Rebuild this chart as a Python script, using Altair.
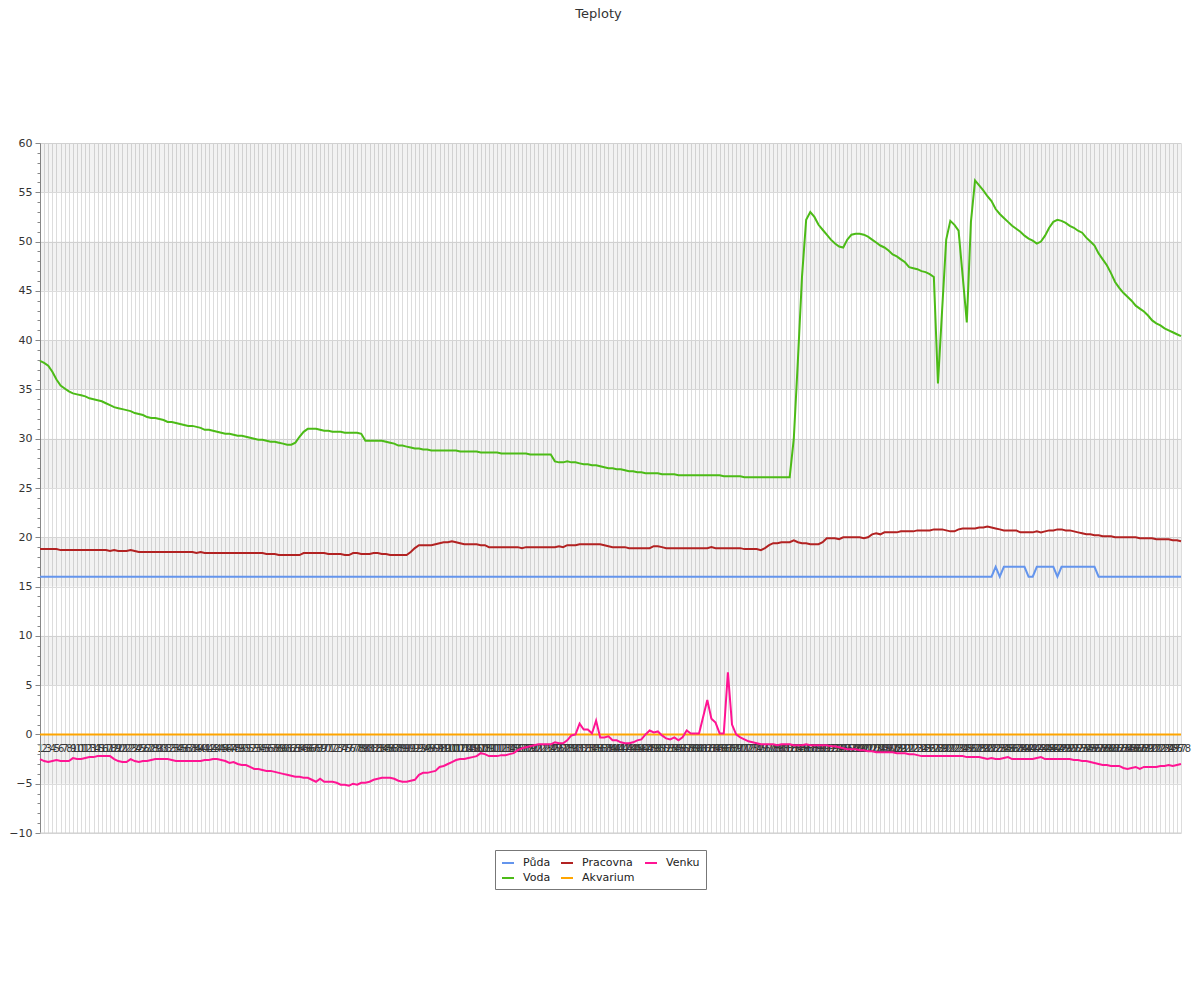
import altair as alt
import pandas as pd

labels = [str(i) for i in range(1, 279)]

voda = [
    37.9, 37.7, 37.4, 36.8, 36.0, 35.4, 35.1, 34.8, 34.6, 34.5,
    34.4, 34.3, 34.1, 34.0, 33.9, 33.8, 33.6, 33.4, 33.2, 33.1,
    33.0, 32.9, 32.8, 32.6, 32.5, 32.4, 32.2, 32.1, 32.1, 32.0,
    31.9, 31.7, 31.7, 31.6, 31.5, 31.4, 31.3, 31.3, 31.2, 31.1,
    30.9, 30.9, 30.8, 30.7, 30.6, 30.5, 30.5, 30.4, 30.3, 30.3,
    30.2, 30.1, 30.0, 29.9, 29.9, 29.8, 29.7, 29.7, 29.6, 29.5,
    29.4, 29.4, 29.6, 30.2, 30.7, 31.0, 31.0, 31.0, 30.9, 30.8,
    30.8, 30.7, 30.7, 30.7, 30.6, 30.6, 30.6, 30.6, 30.5, 29.8,
    29.8, 29.8, 29.8, 29.8, 29.7, 29.6, 29.5, 29.3, 29.3, 29.2,
    29.1, 29.0, 29.0, 28.9, 28.9, 28.8, 28.8, 28.8, 28.8, 28.8,
    28.8, 28.8, 28.7, 28.7, 28.7, 28.7, 28.7, 28.6, 28.6, 28.6,
    28.6, 28.6, 28.5, 28.5, 28.5, 28.5, 28.5, 28.5, 28.5, 28.4,
    28.4, 28.4, 28.4, 28.4, 28.4, 27.7, 27.6, 27.6, 27.7, 27.6,
    27.6, 27.5, 27.4, 27.4, 27.3, 27.3, 27.2, 27.1, 27.0, 27.0,
    26.9, 26.9, 26.8, 26.7, 26.7, 26.6, 26.6, 26.5, 26.5, 26.5,
    26.5, 26.4, 26.4, 26.4, 26.4, 26.3, 26.3, 26.3, 26.3, 26.3,
    26.3, 26.3, 26.3, 26.3, 26.3, 26.3, 26.2, 26.2, 26.2, 26.2,
    26.2, 26.1, 26.1, 26.1, 26.1, 26.1, 26.1, 26.1, 26.1, 26.1,
    26.1, 26.1, 26.1, 30.0, 38.0, 46.5, 52.2, 53.0, 52.5, 51.7,
    51.2, 50.7, 50.2, 49.8, 49.5, 49.4, 50.2, 50.7, 50.8, 50.8,
    50.7, 50.5, 50.2, 49.9, 49.6, 49.4, 49.1, 48.7, 48.5, 48.2,
    47.9, 47.4, 47.3, 47.2, 47.0, 46.9, 46.7, 46.4, 35.6, 43.0,
    50.2, 52.1, 51.7, 51.1, 46.5, 41.8, 52.0, 56.2, 55.7, 55.2,
    54.6, 54.1, 53.3, 52.8, 52.4, 52.0, 51.6, 51.3, 51.0, 50.6,
    50.3, 50.1, 49.8, 50.0, 50.6, 51.4, 52.0, 52.2, 52.1, 51.9,
    51.6, 51.4, 51.1, 50.9, 50.4, 50.0, 49.6, 48.8, 48.2, 47.6,
    46.8, 45.9, 45.3, 44.8, 44.4, 44.0, 43.5, 43.2, 42.9, 42.5,
    42.0, 41.7, 41.5, 41.2, 41.0, 40.8, 40.6, 40.4,
]

pracovna = [
    18.8, 18.8, 18.8, 18.8, 18.8, 18.7, 18.7, 18.7, 18.7, 18.7,
    18.7, 18.7, 18.7, 18.7, 18.7, 18.7, 18.7, 18.6, 18.7, 18.6,
    18.6, 18.6, 18.7, 18.6, 18.5, 18.5, 18.5, 18.5, 18.5, 18.5,
    18.5, 18.5, 18.5, 18.5, 18.5, 18.5, 18.5, 18.5, 18.4, 18.5,
    18.4, 18.4, 18.4, 18.4, 18.4, 18.4, 18.4, 18.4, 18.4, 18.4,
    18.4, 18.4, 18.4, 18.4, 18.4, 18.3, 18.3, 18.3, 18.2, 18.2,
    18.2, 18.2, 18.2, 18.2, 18.4, 18.4, 18.4, 18.4, 18.4, 18.4,
    18.3, 18.3, 18.3, 18.3, 18.2, 18.2, 18.4, 18.4, 18.3, 18.3,
    18.3, 18.4, 18.4, 18.3, 18.3, 18.2, 18.2, 18.2, 18.2, 18.2,
    18.5, 18.9, 19.2, 19.2, 19.2, 19.2, 19.3, 19.4, 19.5, 19.5,
    19.6, 19.5, 19.4, 19.3, 19.3, 19.3, 19.3, 19.2, 19.2, 19.0,
    19.0, 19.0, 19.0, 19.0, 19.0, 19.0, 19.0, 18.9, 19.0, 19.0,
    19.0, 19.0, 19.0, 19.0, 19.0, 19.0, 19.1, 19.0, 19.2, 19.2,
    19.2, 19.3, 19.3, 19.3, 19.3, 19.3, 19.3, 19.2, 19.1, 19.0,
    19.0, 19.0, 19.0, 18.9, 18.9, 18.9, 18.9, 18.9, 18.9, 19.1,
    19.1, 19.0, 18.9, 18.9, 18.9, 18.9, 18.9, 18.9, 18.9, 18.9,
    18.9, 18.9, 18.9, 19.0, 18.9, 18.9, 18.9, 18.9, 18.9, 18.9,
    18.9, 18.8, 18.8, 18.8, 18.8, 18.7, 18.9, 19.2, 19.4, 19.4,
    19.5, 19.5, 19.5, 19.7, 19.5, 19.4, 19.4, 19.3, 19.3, 19.3,
    19.5, 19.9, 19.9, 19.9, 19.8, 20.0, 20.0, 20.0, 20.0, 20.0,
    19.9, 20.0, 20.3, 20.4, 20.3, 20.5, 20.5, 20.5, 20.5, 20.6,
    20.6, 20.6, 20.6, 20.7, 20.7, 20.7, 20.7, 20.8, 20.8, 20.8,
    20.7, 20.6, 20.6, 20.8, 20.9, 20.9, 20.9, 20.9, 21.0, 21.0,
    21.1, 21.0, 20.9, 20.8, 20.7, 20.7, 20.7, 20.7, 20.5, 20.5,
    20.5, 20.5, 20.6, 20.5, 20.6, 20.7, 20.7, 20.8, 20.8, 20.7,
    20.7, 20.6, 20.5, 20.4, 20.3, 20.3, 20.2, 20.2, 20.1, 20.1,
    20.1, 20.0, 20.0, 20.0, 20.0, 20.0, 20.0, 19.9, 19.9, 19.9,
    19.9, 19.8, 19.8, 19.8, 19.8, 19.7, 19.7, 19.6,
]

venku = [
    -2.5, -2.7, -2.8, -2.7, -2.6, -2.7, -2.7, -2.7, -2.4, -2.5,
    -2.5, -2.4, -2.3, -2.3, -2.2, -2.2, -2.2, -2.2, -2.5, -2.7,
    -2.8, -2.8, -2.5, -2.7, -2.8, -2.7, -2.7, -2.6, -2.5, -2.5,
    -2.5, -2.5, -2.6, -2.7, -2.7, -2.7, -2.7, -2.7, -2.7, -2.7,
    -2.6, -2.6, -2.5, -2.5, -2.6, -2.7, -2.9, -2.8, -3.0, -3.1,
    -3.1, -3.3, -3.5, -3.5, -3.6, -3.7, -3.7, -3.8, -3.9, -4.0,
    -4.1, -4.2, -4.3, -4.3, -4.4, -4.4, -4.6, -4.8, -4.5, -4.8,
    -4.8, -4.8, -4.9, -5.1, -5.1, -5.2, -5.0, -5.1, -4.9, -4.9,
    -4.8, -4.6, -4.5, -4.4, -4.4, -4.4, -4.5, -4.7, -4.8, -4.8,
    -4.7, -4.6, -4.1, -3.9, -3.9, -3.8, -3.7, -3.3, -3.2, -3.0,
    -2.8, -2.6, -2.5, -2.5, -2.4, -2.3, -2.2, -1.9, -2.0, -2.2,
    -2.2, -2.2, -2.1, -2.1, -2.0, -1.9, -1.6, -1.4, -1.3, -1.2,
    -1.1, -1.0, -1.0, -1.0, -1.0, -0.8, -0.9, -0.9, -0.6, -0.1,
    0.0, 1.1, 0.5, 0.5, 0.1, 1.4, -0.3, -0.3, -0.2, -0.6,
    -0.6, -0.8, -0.9, -0.9, -0.8, -0.6, -0.5, 0.0, 0.4, 0.2,
    0.3, -0.1, -0.4, -0.5, -0.3, -0.6, -0.3, 0.4, 0.1, 0.1,
    0.1, 1.8, 3.5, 1.6, 1.2, 0.1, 0.1, 6.3, 1.0, 0.0,
    -0.3, -0.5, -0.7, -0.8, -0.9, -1.0, -1.0, -1.0, -1.0, -1.1,
    -1.0, -1.0, -1.0, -1.1, -1.1, -1.1, -1.0, -1.1, -1.1, -1.1,
    -1.1, -1.1, -1.2, -1.2, -1.3, -1.4, -1.5, -1.5, -1.5, -1.6,
    -1.6, -1.7, -1.7, -1.8, -1.8, -1.8, -1.8, -1.8, -1.9, -1.9,
    -1.9, -2.0, -2.0, -2.1, -2.2, -2.2, -2.2, -2.2, -2.2, -2.2,
    -2.2, -2.2, -2.2, -2.2, -2.2, -2.3, -2.3, -2.3, -2.3, -2.4,
    -2.5, -2.4, -2.5, -2.5, -2.4, -2.3, -2.5, -2.5, -2.5, -2.5,
    -2.5, -2.5, -2.4, -2.3, -2.5, -2.5, -2.5, -2.5, -2.5, -2.5,
    -2.5, -2.6, -2.6, -2.7, -2.7, -2.8, -2.9, -3.0, -3.1, -3.1,
    -3.2, -3.2, -3.2, -3.4, -3.5, -3.4, -3.3, -3.5, -3.3, -3.3,
    -3.3, -3.3, -3.2, -3.2, -3.1, -3.2, -3.1, -3.0,
]

puda = ([16.0] * 232 + [17.0, 16.0] + [17.0] * 6 + [16.0] * 2 + [17.0] * 5
        + [16.0] + [17.0] * 9 + [16.0] * 21)

akvarium = [0.0] * 278

series = [("Půda", puda), ("Voda", voda), ("Pracovna", pracovna),
          ("Akvarium", akvarium), ("Venku", venku)]

series_names = ["Půda", "Voda", "Pracovna", "Akvarium", "Venku"]
series_colors = ["#6495ED", "#4CBB17", "#B22222", "#FFA500", "#FF1493"]

band_lo = [55, 45, 35, 25, 15, 5, -5]

rows = []
for name, vals in series:
    for lab, v in zip(labels, vals):
        rows.append({"label": lab, "value": v, "series": name})
df = pd.DataFrame(rows)
bands = pd.DataFrame({"lo": band_lo, "hi": [b + 5 for b in band_lo]})

FONT = "DejaVu Sans"
cond5 = "datum.value % 5 == 0"

y_axis = alt.Axis(
    title=None,
    values=list(range(-10, 61)),
    labelExpr=f"{cond5} ? datum.label : ''",
    labelOverlap=False,
    tickSize={"condition": {"test": cond5, "value": 5}, "value": 3},
    gridOpacity={"condition": {"test": cond5, "value": 1}, "value": 0},
    gridColor="#dddddd",
    domainColor="#888888",
    tickColor="#888888",
    labelColor="#333333",
    labelFontSize=11,
    labelFont=FONT,
    labelPadding=3,
)
y_scale = alt.Scale(domain=[-10, 60], nice=False, zero=False)

band_layer = alt.Chart(bands).mark_rect(fill="#000000", opacity=0.05).encode(
    y=alt.Y("lo:Q", scale=y_scale, axis=y_axis),
    y2="hi:Q",
)

bottom = alt.Chart(pd.DataFrame({"v": [-10]})).mark_rule(color="#cccccc").encode(
    y=alt.Y("v:Q", scale=y_scale, axis=y_axis)
)

lines = alt.Chart(df).mark_line(strokeWidth=2).encode(
    x=alt.X(
        "label:O",
        sort=labels,
        scale=alt.Scale(type="point", padding=0),
        axis=alt.Axis(
            title=None,
            labelAngle=0,
            labelOverlap=False,
            ticks=False,
            domain=False,
            grid=True,
            gridColor="#dddddd",
            offset=-98.6,
            labelPadding=9,
            labelFontSize=10,
            labelFont=FONT,
            labelColor="#3a3a3a",
        ),
    ),
    y=alt.Y("value:Q", scale=y_scale, axis=y_axis),
    color=alt.Color(
        "series:N",
        scale=alt.Scale(domain=series_names, range=series_colors),
        legend=alt.Legend(
            title=None,
            orient="none",
            legendX=455,
            legendY=707,
            columns=3,
            symbolType="stroke",
            symbolStrokeWidth=2,
            symbolSize=144,
            labelFontSize=11,
            labelFont=FONT,
            labelColor="#222222",
            labelOffset=8,
            strokeColor="#777777",
            padding=6,
            columnPadding=6,
            rowPadding=3,
        ),
    ),
)

chart = alt.layer(band_layer, bottom, lines).properties(
    width=1141,
    height=690,
    title=alt.TitleParams(
        "Teploty", fontSize=13, fontWeight="normal", color="#333333",
        font=FONT, offset=116, dx=-12, anchor="middle",
    ),
    autosize=alt.AutoSizeParams(type="none"),
    padding={"left": 32, "top": 135, "right": 11, "bottom": 150},
).configure_view(stroke=None)

chart.save("out.html", embed_options={"renderer": "svg", "actions": False})
